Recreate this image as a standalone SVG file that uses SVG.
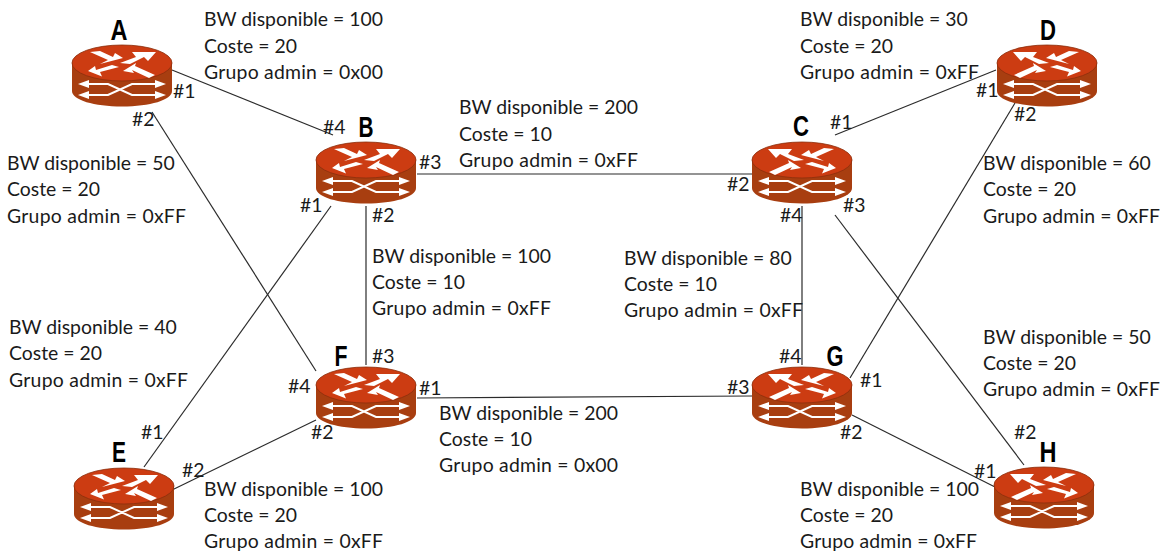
<svg xmlns="http://www.w3.org/2000/svg" width="1164" height="554" viewBox="0 0 1164 554">
<style>
text{font-family:"Lato","Carlito","Open Sans",sans-serif;font-size:19.4px;fill:#1a1a1a}
.n{font-family:"Liberation Sans",sans-serif;font-weight:700;font-size:29px;fill:#000;text-anchor:middle}
.c line{stroke:#2b2b2b;stroke-width:1.2}
.w{fill:#fff}
.wl{stroke:#fff;stroke-width:2;fill:none}
</style>
<defs>
<g id="base">
<path d="M-50 0V28C-50 37-28 43.500 0 43.500S50 37 50 28V0Z" fill="#a83e10"/>
<ellipse cx="0" cy="0" rx="50" ry="18" fill="#cc3c12" stroke="#8a2f0c" stroke-width=".8"/>
<path class="wl" d="M-36 21H-14L10 32H36M-36 32H-14L10 21H36"/>
<path class="w" d="M-44 21-33 17V25ZM44 21 33 17V25ZM-44 32-33 28V36ZM44 32 33 28V36Z"/>
</g>
<g id="t">
<path class="w" d="M-32-11-22-12-9-6-7-10 1-5-22 1-14-3Z"/>
<path class="w" d="M34-11 26-2 22-6 8 1-2 0 14-6 10-11Z"/>
<path class="w" d="M-34 8-20 13.500-22 9-3 4-10 2-26 7-27 3Z"/>
<path class="w" d="M1 8 14 0 13 3 33 12 27 15 10 7 12 10Z"/>
</g>
<symbol id="r" overflow="visible"><use href="#base"/><use href="#t"/></symbol>
<symbol id="m" overflow="visible"><use href="#base"/><use href="#t" transform="scale(-1 1)"/></symbol>
</defs>
<g id="connectors" class="c">
<line x1="172" y1="70" x2="333" y2="135"/>
<line x1="152" y1="112" x2="316" y2="371"/>
<line x1="417" y1="174" x2="752" y2="174"/>
<line x1="835" y1="135" x2="996" y2="70"/>
<line x1="331" y1="206" x2="144" y2="467"/>
<line x1="366" y1="206" x2="366" y2="365"/>
<line x1="802" y1="206" x2="802" y2="365"/>
<line x1="835" y1="215" x2="1024" y2="465"/>
<line x1="1015" y1="103" x2="850" y2="378"/>
<line x1="417" y1="398" x2="752" y2="396"/>
<line x1="316" y1="420" x2="172" y2="490"/>
<line x1="852" y1="415" x2="995" y2="487"/>
</g>
<g id="A"><use href="#r" x="122" y="63"/><text class="n" x="119" y="40" textLength="17" lengthAdjust="spacingAndGlyphs">A</text></g>
<g id="B"><use href="#r" x="366" y="160"/><text class="n" x="366" y="137" textLength="15" lengthAdjust="spacingAndGlyphs">B</text></g>
<g id="C"><use href="#m" x="802" y="160"/><text class="n" x="801" y="136" textLength="16" lengthAdjust="spacingAndGlyphs">C</text></g>
<g id="D"><use href="#m" x="1047" y="63"/><text class="n" x="1048" y="40" textLength="16" lengthAdjust="spacingAndGlyphs">D</text></g>
<g id="E"><use href="#r" x="124" y="486"/><text class="n" x="119" y="462" textLength="14" lengthAdjust="spacingAndGlyphs">E</text></g>
<g id="F"><use href="#r" x="366" y="385"/><text class="n" x="341" y="366" textLength="13" lengthAdjust="spacingAndGlyphs">F</text></g>
<g id="G"><use href="#m" x="802" y="385"/><text class="n" x="835" y="366" textLength="17" lengthAdjust="spacingAndGlyphs">G</text></g>
<g id="H"><use href="#m" x="1044" y="485"/><text class="n" x="1048" y="462" textLength="17" lengthAdjust="spacingAndGlyphs">H</text></g>
<g id="ports" transform="translate(0 1)">
<text x="173" y="97">#1</text><text x="132" y="125">#2</text>
<text x="323" y="133">#4</text><text x="419" y="168">#3</text><text x="300" y="211">#1</text><text x="372" y="221">#2</text>
<text x="830" y="128">#1</text><text x="727" y="190">#2</text><text x="780" y="221">#4</text><text x="843" y="211">#3</text>
<text x="976" y="96">#1</text><text x="1014" y="120">#2</text>
<text x="141" y="438">#1</text><text x="182" y="476">#2</text>
<text x="372" y="362">#3</text><text x="288" y="392">#4</text><text x="419" y="394">#1</text><text x="311" y="438">#2</text>
<text x="779" y="362">#4</text><text x="727" y="393">#3</text><text x="860" y="386">#1</text><text x="840" y="438">#2</text>
<text x="1014" y="438">#2</text><text x="974" y="477">#1</text>
</g>
<g id="labels" transform="translate(0 1)">
<text x="204" y="25">BW disponible = 100</text><text x="204" y="52">Coste = 20</text><text x="204" y="78" textLength="179">Grupo admin = 0x00</text>
<text x="800" y="25">BW disponible = 30</text><text x="800" y="52">Coste = 20</text><text x="800" y="78" textLength="179">Grupo admin = 0xFF</text>
<text x="459" y="113">BW disponible = 200</text><text x="459" y="140">Coste = 10</text><text x="459" y="166" textLength="179">Grupo admin = 0xFF</text>
<text x="7" y="169">BW disponible = 50</text><text x="7" y="195">Coste = 20</text><text x="7" y="222" textLength="179">Grupo admin = 0xFF</text>
<text x="983" y="169">BW disponible = 60</text><text x="983" y="195">Coste = 20</text><text x="983" y="222" textLength="177">Grupo admin = 0xFF</text>
<text x="372" y="262">BW disponible = 100</text><text x="372" y="288">Coste = 10</text><text x="372" y="314" textLength="179">Grupo admin = 0xFF</text>
<text x="624" y="264">BW disponible = 80</text><text x="624" y="290">Coste = 10</text><text x="624" y="316" textLength="179">Grupo admin = 0xFF</text>
<text x="9" y="333">BW disponible = 40</text><text x="9" y="359">Coste = 20</text><text x="9" y="386" textLength="179">Grupo admin = 0xFF</text>
<text x="983" y="343">BW disponible = 50</text><text x="983" y="369">Coste = 20</text><text x="983" y="395" textLength="177">Grupo admin = 0xFF</text>
<text x="439" y="419">BW disponible = 200</text><text x="439" y="445">Coste = 10</text><text x="439" y="471" textLength="179">Grupo admin = 0x00</text>
<text x="204" y="495">BW disponible = 100</text><text x="204" y="521">Coste = 20</text><text x="204" y="547" textLength="179">Grupo admin = 0xFF</text>
<text x="800" y="495">BW disponible = 100</text><text x="800" y="521">Coste = 20</text><text x="800" y="547" textLength="177">Grupo admin = 0xFF</text>
</g>
</svg>
